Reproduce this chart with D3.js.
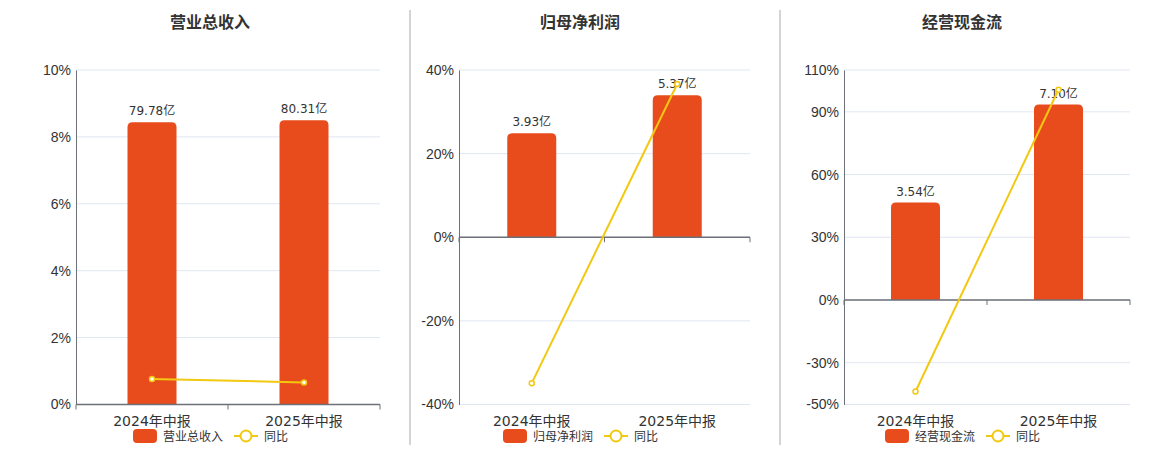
<!DOCTYPE html>
<html>
<head>
    <meta charset="utf-8">
    <script src="https://cdn.jsdelivr.net/npm/d3@7"></script>
    <style>
        body { margin: 0; background: #fff; }
        svg { font-family: "DejaVu Sans", "Noto Sans CJK SC", sans-serif; }
        .title { font-family: "Noto Sans CJK SC", sans-serif; font-size: 16px; font-weight: bold; fill: #333; text-anchor: middle; }
        .tick-label { font-size: 14px; fill: #333; }
        .bar-label { font-size: 12px; fill: #333; text-anchor: middle; }
        .legend-text { font-family: "Noto Sans CJK SC", sans-serif; font-size: 12px; fill: #333; }
    </style>
</head>
<body>
<div id="chart"></div>
<script>
    // data
    const categories = ["2024年中报", "2025年中报"];
    const titles = ["营业总收入", "归母净利润", "经营现金流"];
    const barValues = [[79.78, 80.31], [3.93, 5.37], [3.54, 7.10]];
    const barLabels = [["79.78亿", "80.31亿"], ["3.93亿", "5.37亿"], ["3.54亿", "7.10亿"]];
    const yoyValues = [[0.76, 0.66], [-34.9, 36.64], [-43.8, 100.56]];
    const pctTicks = [[0, 2, 4, 6, 8, 10], [-40, -20, 0, 20, 40], [-50, -30, 0, 30, 60, 90, 110]];

    // layout per panel
    const panels = [
        { left: 76, right: 380, center: 210 },
        { left: 459, right: 750, center: 580 },
        { left: 844, right: 1130, center: 962 }
    ];
    const plotTop = 70, plotBottom = 404.5;
    const barColor = "#E84C1D", lineColor = "#F2C811";
    const axisColor = "#6E7079", gridColor = "#E0E6F1";

    const svg = d3.select("#chart").append("svg")
        .attr("width", 1160).attr("height", 450);

    // separators
    [410, 780].forEach(x => {
        svg.append("line").attr("x1", x).attr("x2", x).attr("y1", 10).attr("y2", 445)
            .attr("stroke", "#aaa").attr("stroke-width", 1);
    });

    panels.forEach((p, i) => {
        const g = svg.append("g");
        const ticks = pctTicks[i];

        const x = d3.scaleBand().domain(categories).range([p.left, p.right]);
        const y = d3.scaleLinear().domain(d3.extent(ticks)).range([plotBottom, plotTop]);
        const zeroY = y(0);
        // hidden bar axis, zero aligned with percent axis
        const barMax = d3.max(barValues[i]) * 1.177;
        const yBar = d3.scaleLinear().domain([0, barMax]).range([zeroY, plotTop]);

        // title
        g.append("text").attr("class", "title").attr("x", p.center).attr("y", 28).text(titles[i]);

        // grid
        g.selectAll(".grid").data(ticks).enter().append("line")
            .attr("x1", p.left).attr("x2", p.right)
            .attr("y1", d => y(d)).attr("y2", d => y(d))
            .attr("stroke", gridColor).attr("stroke-width", 1);

        // y axis
        const yAxis = g.append("g")
            .attr("transform", `translate(${p.left},0)`)
            .call(d3.axisLeft(y).tickValues(ticks).tickSize(0).tickPadding(5).tickFormat(d => d + "%"));
        yAxis.select(".domain").attr("stroke", axisColor).attr("stroke-width", 1);
        yAxis.selectAll("text").attr("class", "tick-label").attr("font-family", null).attr("font-size", null);

        // bars
        const bw = 49, r = 5;
        g.selectAll(".bar").data(barValues[i]).enter().append("path")
            .attr("fill", barColor)
            .attr("d", (d, j) => {
                const x0 = x(categories[j]) + x.bandwidth() / 2 - bw / 2;
                const y0 = yBar(d);
                return `M${x0},${zeroY}V${y0 + r}Q${x0},${y0} ${x0 + r},${y0}H${x0 + bw - r}Q${x0 + bw},${y0} ${x0 + bw},${y0 + r}V${zeroY}Z`;
            });

        g.selectAll(".bar-label").data(barValues[i]).enter().append("text")
            .attr("class", "bar-label")
            .attr("x", (d, j) => x(categories[j]) + x.bandwidth() / 2)
            .attr("y", d => yBar(d) - 7)
            .text((d, j) => barLabels[i][j]);

        // x axis at zero line
        g.append("line").attr("x1", p.left).attr("x2", p.right)
            .attr("y1", zeroY).attr("y2", zeroY)
            .attr("stroke", axisColor).attr("stroke-width", 1.5);
        const bounds = categories.map(c => x(c)).concat([p.right]);
        g.selectAll(".xtick").data(bounds).enter().append("line")
            .attr("x1", d => d).attr("x2", d => d)
            .attr("y1", zeroY).attr("y2", zeroY + 5)
            .attr("stroke", axisColor).attr("stroke-width", 1);
        g.selectAll(".xlabel").data(categories).enter().append("text")
            .attr("class", "tick-label").attr("text-anchor", "middle")
            .attr("x", d => x(d) + x.bandwidth() / 2)
            .attr("y", plotBottom + 21)
            .text(d => d);

        // yoy line
        const line = d3.line()
            .x((d, j) => x(categories[j]) + x.bandwidth() / 2)
            .y(d => y(d));
        g.append("path").datum(yoyValues[i])
            .attr("fill", "none").attr("stroke", lineColor).attr("stroke-width", 2)
            .attr("d", line);
        g.selectAll(".pt").data(yoyValues[i]).enter().append("circle")
            .attr("cx", (d, j) => x(categories[j]) + x.bandwidth() / 2)
            .attr("cy", d => y(d)).attr("r", 2.5)
            .attr("fill", "#fff").attr("stroke", lineColor).attr("stroke-width", 1.5);

        // legend
        const lx = p.center - 77;
        const ly = 436;
        const lg = g.append("g");
        lg.append("rect").attr("x", lx).attr("y", ly - 7).attr("width", 24).attr("height", 14)
            .attr("rx", 4).attr("fill", barColor);
        lg.append("text").attr("class", "legend-text").attr("x", lx + 30).attr("y", ly + 4.5).text(titles[i]);
        const l2 = lx + 101;
        lg.append("line").attr("x1", l2).attr("x2", l2 + 24).attr("y1", ly).attr("y2", ly)
            .attr("stroke", lineColor).attr("stroke-width", 2);
        lg.append("circle").attr("cx", l2 + 12).attr("cy", ly).attr("r", 5.5)
            .attr("fill", "#fff").attr("stroke", lineColor).attr("stroke-width", 2);
        lg.append("text").attr("class", "legend-text").attr("x", l2 + 30).attr("y", ly + 4.5).text("同比");
    });
</script>
</body>
</html>
